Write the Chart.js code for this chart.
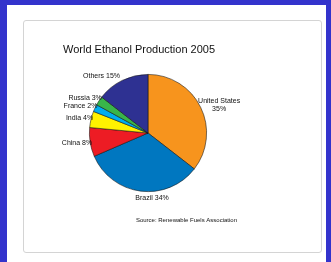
<!DOCTYPE html>
<html>
<head>
<meta charset="utf-8">
<script src="https://cdn.jsdelivr.net/npm/chart.js@4"></script>
<style>
  html, body { margin: 0; padding: 0; }
  body { width: 331px; height: 262px; background: #3333cc; position: relative; overflow: hidden; }
  #panel { position: absolute; left: 7px; top: 5px; width: 319px; height: 257px; background: #fff; }
  #frame { position: absolute; left: 23px; top: 20px; width: 297px; height: 231px; border: 1px solid #d4d4d4; border-radius: 3px; }
  #wrap { position: absolute; left: 0; top: 0; width: 331px; height: 262px; }
</style>
</head>
<body>
<div id="panel"></div>
<div id="frame"></div>
<div id="wrap"><canvas id="chart" width="331" height="262"></canvas></div>
<script>
const title = 'World Ethanol Production 2005'
const source = 'Source: Renewable Fuels Association'
const countries = ['United States', 'Brazil', 'China', 'India', 'France', 'Russia', 'Others']
const shares = [35.5, 33, 8, 4.5, 2, 2.5, 14.5]
const shareLabels = ['35%', '34%', '8%', '4%', '2%', '3%', '15%']
const colors = ['#f7941d', '#0077c0', '#ed1c24', '#fff200', '#00aeef', '#39b54a', '#2e3192']

const textFont = '"Liberation Sans Narrow", "Liberation Sans", Arial, sans-serif'

const labelPlugin = {
  id: 'labels',
  afterDraw(chart) {
    const ctx = chart.ctx
    const meta = chart.getDatasetMeta(0)
    ctx.save()
    ctx.fillStyle = '#111'
    ctx.textBaseline = 'middle'

    ctx.font = '11px ' + textFont
    ctx.textAlign = 'left'
    ctx.fillText(title, 63, 50)

    ctx.font = '7px ' + textFont
    meta.data.forEach((arc, i) => {
      const mid = (arc.startAngle + arc.endAngle) / 2
      const r = arc.outerRadius + 5
      let x = arc.x + Math.cos(mid) * r
      const y = arc.y + Math.sin(mid) * r
      if (i === 0) {
        ctx.textAlign = 'center'
        ctx.fillText(countries[i], x + 14, y - 4)
        ctx.fillText(shareLabels[i], x + 14, y + 4)
      } else if (Math.abs(Math.cos(mid)) < 0.3) {
        ctx.textAlign = 'center'
        ctx.fillText(countries[i] + ' ' + shareLabels[i], x + 12, y + 2)
      } else {
        if (Math.cos(mid) < 0 && Math.abs(Math.sin(mid)) < 0.8) x += 7
        ctx.textAlign = Math.cos(mid) < 0 ? 'right' : 'left'
        ctx.fillText(countries[i] + ' ' + shareLabels[i], x, y)
      }
    })

    ctx.font = '6px ' + textFont
    ctx.textAlign = 'right'
    ctx.fillText(source, 237, 220)
    ctx.restore()
  }
}

new Chart(document.getElementById('chart'), {
  type: 'pie',
  data: {
    labels: countries,
    datasets: [{
      data: shares,
      backgroundColor: colors,
      borderColor: 'rgba(20,20,20,0.7)',
      borderWidth: 0.8
    }]
  },
  options: {
    responsive: false,
    animation: false,
    layout: { padding: { left: 89, right: 124, top: 74, bottom: 70 } },
    plugins: {
      legend: { display: false },
      tooltip: { enabled: false }
    }
  },
  plugins: [labelPlugin]
})
</script>
</body>
</html>
